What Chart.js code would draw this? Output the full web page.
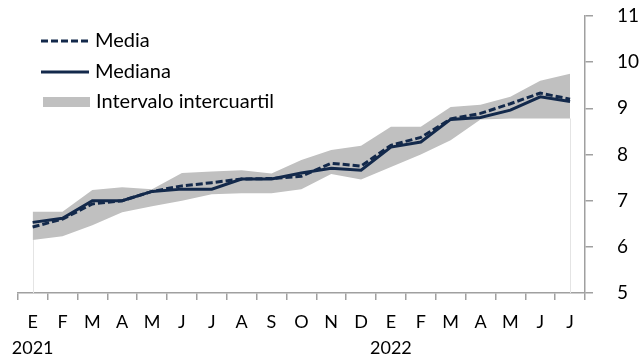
<!DOCTYPE html>
<html>
<head>
<meta charset="utf-8">
<script src="https://cdn.jsdelivr.net/npm/chart.js@4.4.1/dist/chart.umd.min.js"></script>
<style>
  html, body { margin: 0; padding: 0; background: #ffffff; }
  #wrap { position: relative; width: 642px; height: 359px; }
</style>
</head>
<body>
<div id="wrap"><canvas id="c"></canvas></div>
<script>
// ---- data ----
const months = ['E','F','M','A','M','J','J','A','S','O','N','D','E','F','M','A','M','J','J'];
const years = {0: '2021', 12: '2022'};
const media   = [6.43, 6.60, 6.93, 7.00, 7.20, 7.32, 7.39, 7.47, 7.48, 7.53, 7.81, 7.75, 8.20, 8.37, 8.77, 8.89, 9.10, 9.33, 9.20];
const mediana = [6.53, 6.62, 7.00, 7.00, 7.20, 7.25, 7.25, 7.47, 7.47, 7.60, 7.70, 7.66, 8.16, 8.27, 8.76, 8.80, 8.96, 9.25, 9.15];
const q1      = [6.15, 6.23, 6.47, 6.75, 6.88, 7.00, 7.14, 7.16, 7.16, 7.25, 7.58, 7.46, 7.73, 8.00, 8.31, 8.76, 8.78, 8.78, 8.78];
const q3      = [6.76, 6.76, 7.23, 7.29, 7.25, 7.60, 7.63, 7.66, 7.59, 7.88, 8.10, 8.19, 8.60, 8.60, 9.03, 9.08, 9.25, 9.60, 9.75];
const yTicks  = [5, 6, 7, 8, 9, 10, 11];
const seriesNames = ['Media', 'Mediana', 'Intervalo intercuartil'];

const NAVY = '#13294b';
const BAND = '#c0c0c0';
const AXIS = '#a0a0a0';
const FONT = 'Lato, "Open Sans", sans-serif';

const labels = months.map((m, i) => years[i] ? [m, years[i]] : m);

const edgeLines = {
  id: 'edgeLines',
  beforeDatasetsDraw(chart) {
    const { ctx, scales: { x, y } } = chart;
    ctx.save();
    ctx.strokeStyle = '#e4e4e4';
    ctx.lineWidth = 1;
    [0, q1.length - 1].forEach(i => {
      const px = Math.round(x.getPixelForValue(i)) + 0.5;
      ctx.beginPath();
      ctx.moveTo(px, y.getPixelForValue(q1[i]));
      ctx.lineTo(px, y.getPixelForValue(5));
      ctx.stroke();
    });
    ctx.restore();
  }
};

const legendPlugin = {
  id: 'customLegend',
  afterDraw(chart) {
    const ctx = chart.ctx;
    ctx.save();
    ctx.font = '20px ' + FONT;
    ctx.fillStyle = '#000000';
    ctx.textBaseline = 'middle';
    ctx.textAlign = 'left';
    // Media (dashed)
    ctx.strokeStyle = NAVY;
    ctx.lineWidth = 3;
    ctx.setLineDash([7, 3]);
    ctx.beginPath(); ctx.moveTo(41, 41); ctx.lineTo(89, 41); ctx.stroke();
    ctx.setLineDash([]);
    ctx.fillText(seriesNames[0], 95, 41);
    // Mediana (solid)
    ctx.beginPath(); ctx.moveTo(41, 72); ctx.lineTo(89, 72); ctx.stroke();
    ctx.fillText(seriesNames[1], 95, 72);
    // band
    ctx.fillStyle = BAND;
    ctx.fillRect(43, 97, 47, 10);
    ctx.fillStyle = '#000000';
    ctx.fillText(seriesNames[2], 96, 102);
    ctx.restore();
  }
};

new Chart(document.getElementById('c'), {
  type: 'line',
  data: {
    labels: labels,
    datasets: [
      { label: seriesNames[0], data: media, borderColor: NAVY, borderWidth: 3, borderDash: [7, 3],
        pointRadius: 0, tension: 0, fill: false, order: 0 },
      { label: seriesNames[1], data: mediana, borderColor: NAVY, borderWidth: 3,
        pointRadius: 0, tension: 0, fill: false, order: 1 },
      { label: 'q1', data: q1, borderWidth: 0, borderColor: 'rgba(0,0,0,0)',
        pointRadius: 0, tension: 0, fill: false, order: 3 },
      { label: seriesNames[2], data: q3, borderWidth: 0, borderColor: 'rgba(0,0,0,0)', backgroundColor: BAND,
        pointRadius: 0, tension: 0, fill: '-1', order: 2 }
    ]
  },
  options: {
    responsive: true,
    maintainAspectRatio: false,
    animation: false,
    events: [],
    layout: { padding: { left: 17.7, top: 16, right: 0, bottom: 0 } },
    plugins: { legend: { display: false }, tooltip: { enabled: false } },
    scales: {
      x: {
        type: 'category',
        offset: true,
        grid: { display: true, offset: true, drawOnChartArea: false, drawTicks: true, tickLength: 7, color: AXIS, lineWidth: 1.5 },
        border: { display: true, color: AXIS, width: 1.5 },
        ticks: { color: '#000000', font: { family: FONT, size: 18, lineHeight: 1.4 }, padding: 10, maxRotation: 0, autoSkip: false },
        afterFit(s) { s.height = 66; s.paddingLeft = 0; s.paddingRight = 0; }
      },
      y: {
        position: 'right',
        min: 5, max: 11,
        afterBuildTicks(s) { s.ticks = yTicks.map(v => ({ value: v })); },
        grid: { display: true, drawOnChartArea: false, drawTicks: true, tickLength: 8, color: AXIS, lineWidth: 1.5 },
        border: { display: true, color: AXIS, width: 1.5 },
        ticks: { color: '#000000', font: { family: FONT, size: 19 }, padding: 24, crossAlign: 'near' },
        afterFit(s) { s.width = 57; s.paddingTop = 0; s.paddingBottom = 0; }
      }
    }
  },
  plugins: [edgeLines, legendPlugin]
});
</script>
</body>
</html>
